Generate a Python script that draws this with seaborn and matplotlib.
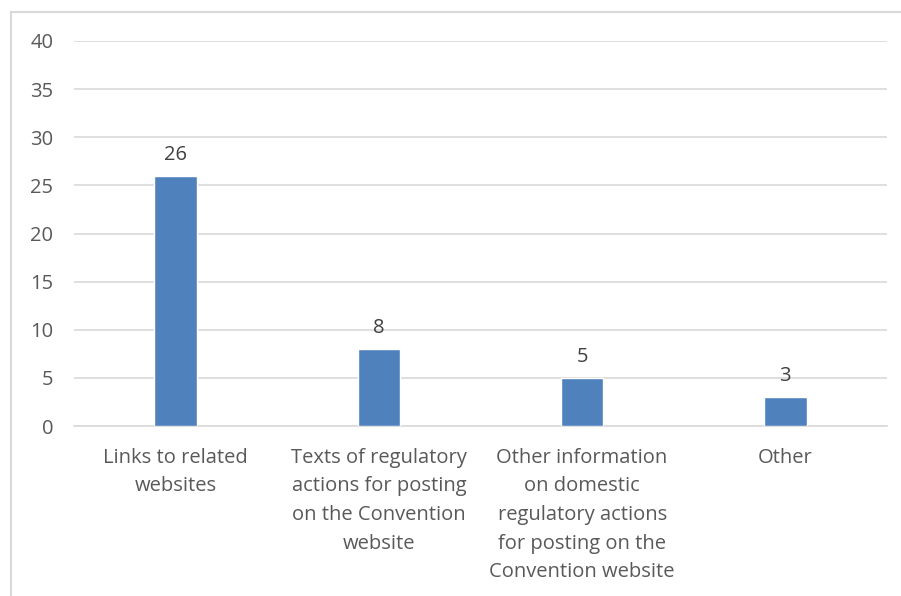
import pandas as pd
import seaborn as sb
import matplotlib.pyplot as plt
from matplotlib.patches import Rectangle

# values
categories = ["Links to related\nwebsites",
              "Texts of regulatory\nactions for posting\non the Convention\nwebsite",
              "Other information\non domestic\nregulatory actions\nfor posting on the\nConvention website",
              "Other"]
counts = [26, 8, 5, 3]
yticks = [0, 5, 10, 15, 20, 25, 30, 35, 40]

df = pd.DataFrame({'category': categories, 'count': counts})

sb.set_style('white')
plt.rcParams['font.family'] = ['Open Sans', 'DejaVu Sans']
grey = '#595959'

fig = plt.figure(figsize=(9.01, 5.96), dpi=100)
ax = fig.add_axes([74/901, 1 - 426/596, 813/901, 385/596])

sb.barplot(data=df, x='category', y='count', color='#4F81BD', width=0.21,
           saturation=1, ax=ax, zorder=3)

ax.set_ylim(0, 40)
ax.set_yticks(yticks)
ax.grid(axis='y', color='#D9D9D9', linewidth=1.2, zorder=0)
for s in ['top', 'right', 'left']:
    ax.spines[s].set_visible(False)
ax.spines['bottom'].set_color('#D9D9D9')
ax.spines['bottom'].set_linewidth(1.2)
ax.tick_params(axis='y', length=0, pad=15, labelsize=14.5, labelcolor=grey)
ax.tick_params(axis='x', length=0, pad=15.5, labelsize=14.5, labelcolor=grey)
for lab in ax.get_xticklabels():
    lab.set_linespacing(1.58)
ax.set_xlabel('')
ax.set_ylabel('')

ax.bar_label(ax.containers[0], padding=8, fontsize=14.5, color='#404040')

# chart frame (cropped at right and bottom)
fig.patches.append(Rectangle((11/901, -0.1), 1.0, 1 - 12/596 + 0.1,
                             transform=fig.transFigure, fill=False,
                             edgecolor='#D9D9D9', linewidth=1.5))

fig.savefig('out.png', dpi=100)
